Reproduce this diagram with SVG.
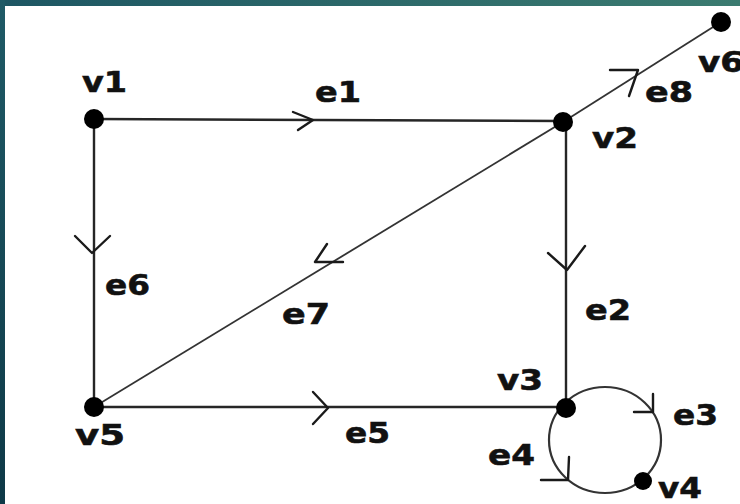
<svg xmlns="http://www.w3.org/2000/svg" width="740" height="504" viewBox="0 0 740 504">
<defs>
<linearGradient id="gTop" x1="0" y1="0" x2="1" y2="0">
<stop offset="0" stop-color="#1d5663"/>
<stop offset="1" stop-color="#3b7b70"/>
</linearGradient>
<linearGradient id="gLeft" x1="0" y1="0" x2="0" y2="1">
<stop offset="0" stop-color="#1f5a66"/>
<stop offset="1" stop-color="#0e3947"/>
</linearGradient>
</defs>
<style>
.edge{fill:none;stroke:#262626;stroke-width:2.4}
.diag{fill:none;stroke:#333;stroke-width:1.8}
.loop{fill:none;stroke:#333;stroke-width:2.2}
.tick{fill:none;stroke:#1a1a1a;stroke-width:2.4;stroke-linecap:round;stroke-linejoin:round}
.dot{fill:#000}
.lbl{font-family:"DejaVu Sans","Liberation Sans",sans-serif;font-weight:bold;font-size:29px;fill:#111;stroke:#111;stroke-width:0.6}
</style>
<rect width="740" height="504" fill="#ffffff"/>
<rect x="0" y="0" width="740" height="6" fill="url(#gTop)"/>
<rect x="0" y="0" width="5" height="504" fill="url(#gLeft)"/>

<g id="connectors">
<line class="edge" x1="94" y1="119" x2="563" y2="121"/>
<line class="edge" x1="94" y1="119" x2="94" y2="407"/>
<line class="edge" x1="566" y1="121" x2="566" y2="407"/>
<line class="edge" x1="94" y1="407" x2="566" y2="407"/>
<line class="diag" x1="94" y1="407" x2="563" y2="122"/>
<line class="diag" x1="563" y1="122" x2="721" y2="22"/>
<ellipse class="loop" cx="605" cy="440" rx="56" ry="53"/>
<path class="tick" d="M293,112 L313,120 L298,130"/>
<path class="tick" d="M75,236 L92,253 L110,236"/>
<path class="tick" d="M548,253 L567,270 L585,246"/>
<path class="tick" d="M313,392 L328,408 L313,424"/>
<path class="tick" d="M327,244 L315,262 L343,262"/>
<path class="tick" d="M610,70 L638,70 L629,96"/>
<path class="tick" d="M634,412 L653,412 L653,394"/>
<path class="tick" d="M541,480 L568,480 L569,457"/>
<text class="lbl" x="315" y="102" textLength="46" lengthAdjust="spacingAndGlyphs">e1</text>
<text class="lbl" x="585" y="320" textLength="46" lengthAdjust="spacingAndGlyphs">e2</text>
<text class="lbl" x="673" y="425" textLength="45" lengthAdjust="spacingAndGlyphs">e3</text>
<text class="lbl" x="488" y="465" textLength="47" lengthAdjust="spacingAndGlyphs">e4</text>
<text class="lbl" x="345" y="443" textLength="45" lengthAdjust="spacingAndGlyphs">e5</text>
<text class="lbl" x="105" y="295" textLength="45" lengthAdjust="spacingAndGlyphs">e6</text>
<text class="lbl" x="282" y="324" textLength="48" lengthAdjust="spacingAndGlyphs">e7</text>
<text class="lbl" x="645" y="102" textLength="48" lengthAdjust="spacingAndGlyphs">e8</text>
</g>

<g id="v1"><circle class="dot" cx="94" cy="119" r="10"/><text class="lbl" x="82" y="92" textLength="45" lengthAdjust="spacingAndGlyphs">v1</text></g>
<g id="v2"><circle class="dot" cx="563" cy="122" r="10"/><text class="lbl" x="592" y="148" textLength="46" lengthAdjust="spacingAndGlyphs">v2</text></g>
<g id="v3"><circle class="dot" cx="566" cy="408" r="10"/><text class="lbl" x="497" y="390" textLength="46" lengthAdjust="spacingAndGlyphs">v3</text></g>
<g id="v4"><circle class="dot" cx="643" cy="481" r="9"/><text class="lbl" x="658" y="498" textLength="44" lengthAdjust="spacingAndGlyphs">v4</text></g>
<g id="v5"><circle class="dot" cx="94" cy="407" r="10"/><text class="lbl" x="75" y="445" textLength="50" lengthAdjust="spacingAndGlyphs">v5</text></g>
<g id="v6"><circle class="dot" cx="721" cy="22" r="10"/><text class="lbl" x="698" y="72" textLength="46" lengthAdjust="spacingAndGlyphs">v6</text></g>
</svg>
